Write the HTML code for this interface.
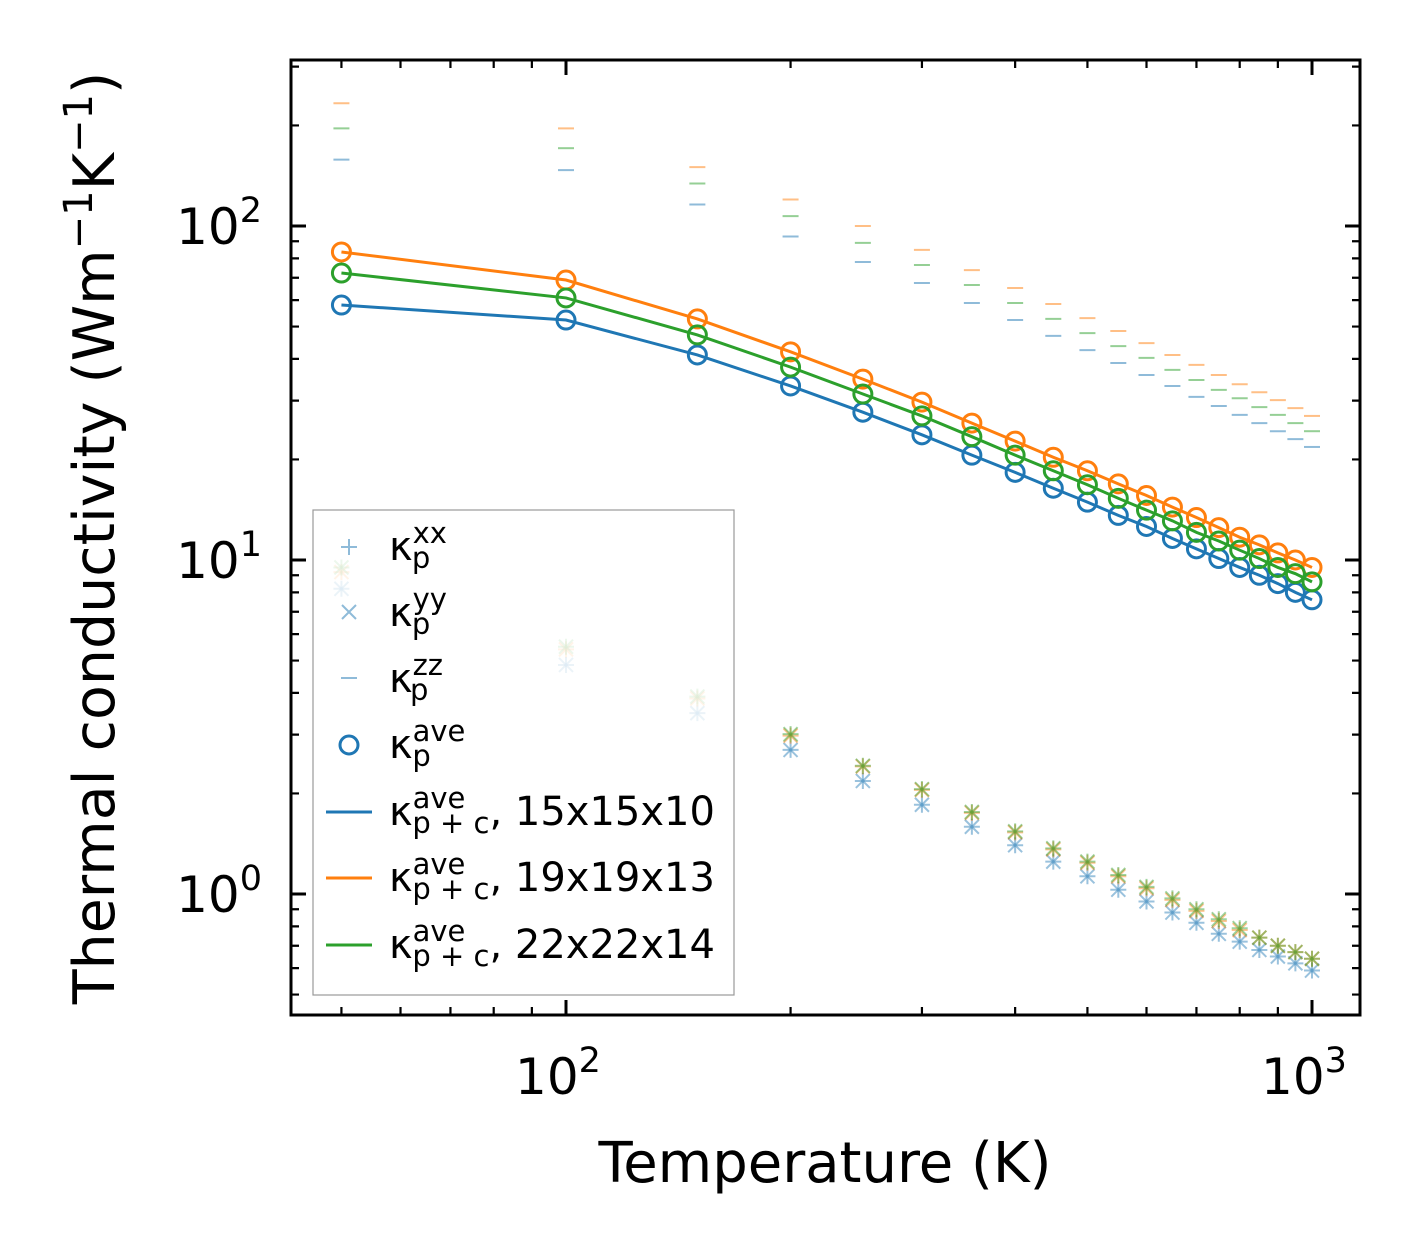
<!DOCTYPE html>
<html><head><meta charset="utf-8"><style>
html,body{margin:0;padding:0;background:#fff;}
svg{display:block;font-family:"DejaVu Sans","Liberation Sans",sans-serif;}
</style></head><body>
<svg id="chart" width="1421" height="1254" viewBox="0 0 1421 1254" xmlns="http://www.w3.org/2000/svg">
<g id="marks"></g>
<g id="axes"></g>
<text x="825" y="1182" font-size="56" text-anchor="middle">Temperature (K)</text>
<text transform="translate(114,538) rotate(-90)" font-size="57" text-anchor="middle">Thermal conductivity (Wm<tspan font-size="40" dy="-22">−1</tspan><tspan dy="22">K</tspan><tspan font-size="40" dy="-22">−1</tspan><tspan dy="22">)</tspan></text>
<g id="legend">
<rect x="313" y="510" width="421" height="485" fill="#fff" fill-opacity="0.8" stroke="#999" stroke-width="1.2"/>
<g>
<path d="M349,539 v16 M341,547 h16" stroke="#1f77b4" stroke-opacity="0.5" stroke-width="2"/>
<text x="389" y="560" font-size="40">κ<tspan font-size="29" dy="-17">xx</tspan><tspan font-size="29" dx="-35" dy="25">p</tspan></text></g>
<g>
<path d="M342,605 l14,14 M356,605 l-14,14" stroke="#1f77b4" stroke-opacity="0.5" stroke-width="2"/>
<text x="389" y="626" font-size="40">κ<tspan font-size="29" dy="-17">yy</tspan><tspan font-size="29" dx="-35" dy="25">p</tspan></text></g>
<g>
<path d="M341,678 h16" stroke="#1f77b4" stroke-opacity="0.5" stroke-width="2"/>
<text x="389" y="692" font-size="40">κ<tspan font-size="29" dy="-17">zz</tspan><tspan font-size="29" dx="-33" dy="25">p</tspan></text></g>
<g>
<circle cx="349" cy="745" r="9" fill="none" stroke="#1f77b4" stroke-width="3"/>
<text x="389" y="758" font-size="40">κ<tspan font-size="29" dy="-17">ave</tspan><tspan font-size="29" dx="-53" dy="25">p</tspan></text></g>
<g>
<path d="M326,812 h46" stroke="#1f77b4" stroke-width="3"/>
<text x="389" y="825" font-size="40">κ<tspan font-size="29" dy="-17">ave</tspan><tspan font-size="29" dx="-53" dy="25">p + c</tspan><tspan dy="-8">, 15x15x10</tspan></text></g>
<g>
<path d="M326,878 h46" stroke="#ff7f0e" stroke-width="3"/>
<text x="389" y="891" font-size="40">κ<tspan font-size="29" dy="-17">ave</tspan><tspan font-size="29" dx="-53" dy="25">p + c</tspan><tspan dy="-8">, 19x19x13</tspan></text></g>
<g>
<path d="M326,945 h46" stroke="#2ca02c" stroke-width="3"/>
<text x="389" y="958" font-size="40">κ<tspan font-size="29" dy="-17">ave</tspan><tspan font-size="29" dx="-53" dy="25">p + c</tspan><tspan dy="-8">, 22x22x14</tspan></text></g>
</g>
</svg>
<script>
const temps=[50,100,150,200,250,300,350,400,450,500,550,600,650,700,750,800,850,900,950,1000];
const aveOrange=[83.6,68.9,52.7,42.0,34.8,29.7,25.7,22.7,20.3,18.5,16.9,15.6,14.4,13.4,12.5,11.7,11.1,10.5,10.0,9.5];
const aveGreen=[72.3,60.9,47.2,37.8,31.4,27.0,23.4,20.6,18.5,16.8,15.3,14.1,13.1,12.1,11.4,10.7,10.1,9.5,9.1,8.6];
const aveBlue=[58.0,52.3,41.1,33.2,27.7,23.7,20.6,18.3,16.4,14.9,13.6,12.6,11.6,10.8,10.1,9.5,9.0,8.5,8.0,7.6];
const xyOrange=[9.2,5.4,3.85,2.98,2.41,2.05,1.75,1.53,1.36,1.24,1.13,1.04,0.96,0.89,0.83,0.78,0.74,0.70,0.67,0.64];
const xyGreen=[9.5,5.5,3.9,3.01,2.42,2.06,1.76,1.54,1.37,1.25,1.14,1.05,0.97,0.90,0.84,0.79,0.74,0.70,0.67,0.64];
const xyBlue=[8.2,4.85,3.48,2.70,2.18,1.85,1.59,1.40,1.25,1.13,1.03,0.95,0.88,0.82,0.76,0.72,0.68,0.65,0.62,0.59];
const zzOrange=[233,196,150,120,100,84.8,73.8,65.2,58.4,53.0,48.5,44.6,41.1,38.4,35.8,33.6,31.8,30.1,28.5,27.0];
const zzGreen=[196,171,134,107,89,76.4,66.6,58.8,52.7,47.8,43.7,40.3,37.1,34.6,32.3,30.5,28.7,27.2,25.7,24.3];
const zzBlue=[158,147,116,93,78,67.5,58.8,52.3,46.9,42.5,38.9,35.8,33.2,30.8,28.9,27.2,25.7,24.3,23.0,21.8];
const xTickVals=[100,1000];
const xTickLabels=['2','3'];
const yTickVals=[1,10,100];
const yTickLabels=['0','1','2'];

const NS='http://www.w3.org/2000/svg';
const L=291,R=1360,T=60,B=1015;
const X=v=>566+746*Math.log10(v/100);
const Y=v=>894-334*Math.log10(v);
const C={b:'#1f77b4',o:'#ff7f0e',g:'#2ca02c'};
const marks=document.getElementById('marks'),axes=document.getElementById('axes');
function mk(tag,attrs,parent){const e=document.createElementNS(NS,tag);for(const k in attrs)e.setAttribute(k,attrs[k]);parent.appendChild(e);return e;}

[[xyBlue,zzBlue,C.b,'blue'],[xyOrange,zzOrange,C.o,'orange'],[xyGreen,zzGreen,C.g,'green']].forEach(([xy,zz,col,nm])=>{
  temps.forEach((t,i)=>{
    const x=X(t),y=Y(xy[i]);
    const p=mk('path',{d:`M${x},${y-8}v16M${x-8},${y}h16`,stroke:col,'stroke-opacity':0.45,'stroke-width':2},marks);
    
    
    const q=mk('path',{d:`M${x-7},${y-7}l14,14M${x+7},${y-7}l-14,14`,stroke:col,'stroke-opacity':0.45,'stroke-width':2},marks);
    
    
    const yz=Y(zz[i]);
    const r=mk('path',{d:`M${x-8},${yz}h16`,stroke:col,'stroke-opacity':0.5,'stroke-width':2},marks);
    
    
  });
});
[[aveBlue,C.b,'blue'],[aveOrange,C.o,'orange'],[aveGreen,C.g,'green']].forEach(([arr,col,nm])=>{
  const pl=mk('polyline',{points:temps.map((t,i)=>X(t)+','+Y(arr[i])).join(' '),fill:'none',stroke:col,'stroke-width':3},marks);
  
  
  temps.forEach((t,i)=>{
    const c=mk('circle',{cx:X(t),cy:Y(arr[i]),r:9,fill:'none',stroke:col,'stroke-width':3},marks);
    
    
  });
});
const fr=mk('rect',{x:L,y:T,width:R-L,height:B-T,fill:'none',stroke:'#000','stroke-width':3},axes);


for(let d=10;d<=1000;d*=10){for(let m=1;m<10;m++){const v=d*m;const x=X(v);if(x<L||x>R)continue;const maj=m===1;const len=maj?15:8;
  const tk=mk('path',{d:`M${x},${B}v${-len}M${x},${T}v${len}`,stroke:'#000','stroke-width':maj?3:2.2},axes);
  
  }}
for(let d=0.1;d<=1000;d*=10){for(let m=1;m<10;m++){const v=d*m;const y=Y(v);if(y<T||y>B)continue;const maj=m===1;const len=maj?15:8;
  const tk=mk('path',{d:`M${L},${y}h${len}M${R},${y}h${-len}`,stroke:'#000','stroke-width':maj?3:2.2},axes);
  
  }}
xTickVals.forEach((v,i)=>{
  const t=mk('text',{x:X(v)-8,y:1094,'font-size':50,'text-anchor':'middle'},axes);
  t.innerHTML='10<tspan font-size="35" dy="-22">'+xTickLabels[i]+'</tspan>';
  
  
});
yTickVals.forEach((v,i)=>{
  const t=mk('text',{x:262,y:Y(v)+18,'font-size':50,'text-anchor':'end'},axes);
  t.innerHTML='10<tspan font-size="35" dy="-22">'+yTickLabels[i]+'</tspan>';
  
  
});
</script>
</body></html>
